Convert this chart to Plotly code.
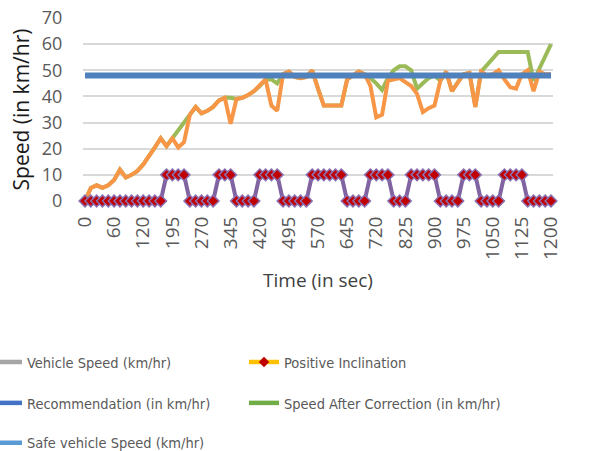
import plotly.graph_objects as go

# ---- data (category index 0..80; time labels shown every 5th category) ----
time_labels = ["0", "60", "120", "195", "270", "345", "420", "495", "570",
               "645", "720", "825", "900", "975", "1050", "1125", "1200"]

vehicle_speed = [0, 5, 6, 5, 6, 8, 12, 9, 10, 11.5,
                 14, 17, 20.5, 24, 21, 24, 20.5, 22.5, 33, 36,
                 33.5, 34.5, 36, 38.5, 39.5, 29.5, 39, 39.5, 40.5, 42,
                 44, 46.5, 36.5, 34.5, 48.5, 49.5, 47.5, 47, 47.5, 50,
                 43, 36.5, 36.5, 36.5, 36.5, 46.5, 48, 49.5, 48.5, 44,
                 32, 33, 46, 46.5, 47, 45.5, 44, 41, 34, 35.5,
                 36.5, 46, 49.5, 42, 45.5, 48.5, 49, 36, 49.5, 48,
                 48.5, 50, 46.5, 43.5, 43, 48.5, 50, 42, 49.5, 48.5,
                 48.5]

speed_after_correction = [0, 5, 6, 5, 6, 8, 12, 9, 10, 11.5,
                          14, 17, 20.5, 24, 21, 24, 27, 30, 33, 36,
                          33.5, 34.5, 36, 38.5, 39.5, 39.5, 39, 39.5, 40.5, 42,
                          44, 46.5, 46.5, 45, 48.5, 49.5, 47.5, 47, 47.5, 50,
                          43, 36.5, 36.5, 36.5, 36.5, 46.5, 48, 49.5, 48.5, 47,
                          45, 42.5, 47, 50, 51.5, 51.5, 50, 43, 45, 47,
                          48, 46, 49.5, 42, 45.5, 48.5, 49, 36, 49.5, 52,
                          55, 57, 57, 57, 57, 57, 57, 46, 50.5, 55,
                          60]

recommendation = [48, 48, 48, 48, 48, 48, 48, 48, 48, 48,
                  48, 48, 48, 48, 48, 48, 48, 48, 48, 48,
                  48, 48, 48, 48, 48, 48, 48, 48, 48, 48,
                  48, 48, 48, 48, 48, 48, 48, 48, 48, 48,
                  48, 48, 48, 48, 48, 48, 48, 48, 48, 48,
                  48, 48, 48, 48, 48, 48, 48, 48, 48, 48,
                  48, 48, 48, 48, 48, 48, 48, 48, 48, 48,
                  48, 48, 48, 48, 48, 48, 48, 48, 48, 48,
                  48]

positive_inclination = [0, 0, 0, 0, 0, 0, 0, 0, 0, 0,
                        0, 0, 0, 0, 10, 10, 10, 10, 0, 0,
                        0, 0, 0, 10, 10, 10, 0, 0, 0, 0,
                        10, 10, 10, 10, 0, 0, 0, 0, 0, 10,
                        10, 10, 10, 10, 10, 0, 0, 0, 0, 10,
                        10, 10, 10, 0, 0, 0, 10, 10, 10, 10,
                        10, 0, 0, 0, 0, 10, 10, 10, 0, 0,
                        0, 0, 10, 10, 10, 10, 0, 0, 0, 0,
                        0]

idx = list(range(len(vehicle_speed)))
tick_positions = idx[::5]

# legend entries (as shown in the reference legend)
legend_names = ["Vehicle Speed (km/hr)", "Positive Inclination",
                "Recommendation (in km/hr)", "Speed After Correction (in km/hr)",
                "Safe vehicle Speed (km/hr)"]

fig = go.Figure()

# plotted series
fig.add_trace(go.Scatter(x=idx, y=speed_after_correction, mode="lines",
                         line=dict(color="#9BBB59", width=4), showlegend=False,
                         cliponaxis=False))
fig.add_trace(go.Scatter(x=idx, y=vehicle_speed, mode="lines",
                         line=dict(color="#F79646", width=4), showlegend=False,
                         cliponaxis=False))
fig.add_trace(go.Scatter(x=idx, y=recommendation, mode="lines",
                         line=dict(color="#4F81BD", width=6), showlegend=False))
fig.add_trace(go.Scatter(x=idx, y=positive_inclination, mode="lines+markers",
                         line=dict(color="#8064A2", width=4),
                         marker=dict(symbol="diamond", size=9, color="#C00000",
                                     line=dict(color="#8B6FB0", width=1.5)),
                         showlegend=False, cliponaxis=False))

# legend-only entries
leg_style = [
    dict(line=dict(color="#A5A5A5", width=4.5), mode="lines", legend="legend"),
    dict(line=dict(color="#FFC000", width=4.5), mode="lines+markers",
         marker=dict(symbol="diamond", size=8, color="#C00000"), legend="legend",
         legendwidth=225),
    dict(line=dict(color="#4472C4", width=4.5), mode="lines", legend="legend2"),
    dict(line=dict(color="#70AD47", width=4.5), mode="lines", legend="legend2",
         legendwidth=225),
    dict(line=dict(color="#5B9BD5", width=4.5), mode="lines", legend="legend3"),
]
for name, st in zip(legend_names, leg_style):
    fig.add_trace(go.Scatter(x=[None], y=[None], name=name, **st))

plot_l, plot_r, plot_t, plot_b = 83, 553, 18, 201.5
W, H = 594, 451
ph = plot_b - plot_t
pw = plot_r - plot_l


def ypaper(px):
    return (plot_b - px) / ph


legend_font = dict(family="DejaVu Sans Condensed, Roboto Condensed, Roboto, sans-serif",
                   size=14.5, color="#595959")
leg_x = (-13 - plot_l) / pw
common_leg = dict(orientation="h", x=leg_x, xanchor="left", yanchor="middle",
                  entrywidth=212, font=legend_font, bgcolor="rgba(0,0,0,0)",
                  traceorder="normal")

fig.update_layout(
    width=W, height=H,
    margin=dict(l=plot_l, r=W - plot_r, t=plot_t, b=H - plot_b, autoexpand=False),
    paper_bgcolor="white", plot_bgcolor="white",
    font=dict(family="Open Sans", color="#595959"),
    legend=dict(y=ypaper(363), **common_leg),
    legend2=dict(y=ypaper(404), **common_leg),
    legend3=dict(y=ypaper(444), **common_leg),
    xaxis=dict(range=[-0.34, 80.34], tickvals=tick_positions, ticktext=time_labels,
               tickangle=-90, showgrid=False, zeroline=False, showline=False,
               ticks="outside", ticklen=7, tickcolor="rgba(0,0,0,0)",
               tickfont=dict(family="Open Sans", size=19, color="#595959"),
               title=dict(text="Time (in sec)", standoff=14,
                          font=dict(family="Open Sans", size=19, color="#404040"))),
    yaxis=dict(range=[0, 70], dtick=10, showgrid=True, gridcolor="#D9D9D9",
               gridwidth=1.5, zeroline=False, showline=False,
               ticks="outside", ticklen=16, tickcolor="rgba(0,0,0,0)",
               tickfont=dict(family="Open Sans", size=18, color="#595959"),
               title=dict(text="Speed (in km/hr)", standoff=6,
                          font=dict(family="Open Sans", size=21, color="#1a1a1a"))),
)

fig.write_html("out.html", config={"displayModeBar": False},
               post_script="document.body.style.margin='0px';document.body.style.overflow='hidden';")
